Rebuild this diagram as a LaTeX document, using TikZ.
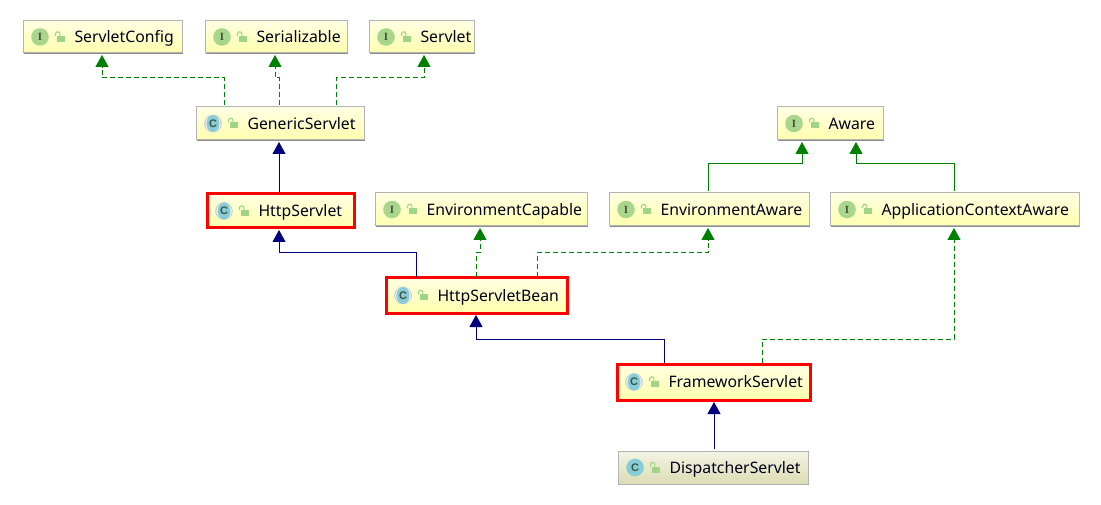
\documentclass[tikz,border=0pt]{standalone}
\usepackage{fontspec}
\setmainfont{Noto Sans}
\newfontfamily\iconserif{Liberation Serif}
\newfontfamily\iconsans{Liberation Sans}
\usetikzlibrary{arrows.meta,calc}
\definecolor{ytop}{HTML}{FFFFE2}
\definecolor{ybot}{HTML}{FFFFAE}
\definecolor{gtop}{HTML}{F4F4E4}
\definecolor{gbot}{HTML}{DCDCB4}
\definecolor{edgegray}{HTML}{B4B4B4}
\definecolor{shadowgray}{HTML}{8C8C8C}
\definecolor{igreen}{HTML}{A9D68C}
\definecolor{cblue}{HTML}{84CDD9}
\definecolor{ringgray}{HTML}{C8C8C8}
\definecolor{lockgreen}{HTML}{A0D585}
\definecolor{icontext}{HTML}{44503C}
\definecolor{implgreen}{HTML}{008000}
\definecolor{extblue}{HTML}{000080}
\tikzset{
  umlbase/.style={anchor=north west,inner sep=0pt,outer sep=0pt,rectangle},
  plainbox/.style={umlbase,draw=edgegray,line width=1pt,top color=ytop,bottom color=ybot},
  redbox/.style={umlbase,draw=red,line width=3pt,top color=ytop,bottom color=ybot},
  leafbox/.style={umlbase,draw=edgegray,line width=1pt,top color=gtop,bottom color=gbot},
  boxlabel/.style={anchor=base west,inner sep=0pt,font=\fontsize{15.8}{18}\selectfont,text=black!90!blue},
  iconi/.style={circle,fill=igreen,inner sep=0pt,minimum size=17.6pt,text=icontext,font=\iconserif\bfseries\fontsize{11}{11}\selectfont},
  iconc/.style={circle,inner sep=0pt,minimum size=17.6pt,text=icontext,font=\iconsans\bfseries\fontsize{11}{11}\selectfont},
  impl/.style={draw=implgreen,line width=1pt,dash pattern=on 5pt off 3pt,-{Triangle[length=12pt,width=13pt]}},
  implsolid/.style={draw=implgreen,line width=1pt,-{Triangle[length=12pt,width=13pt]}},
  ext/.style={draw=extblue,line width=1pt,-{Triangle[length=12pt,width=13pt]}},
}
% name, x1, y1, x2, y2, text, box style, icon letter, kind (c ringed, d plain, i interface)
\newcommand{\umlnode}[9]{%
  \fill[shadowgray] (#2+1,#3+1) rectangle (#4+1,#5+1.2);
  \pgfmathsetmacro{\bw}{#4-#2}\pgfmathsetmacro{\bh}{#5-#3}
  \node[#7,minimum width=\bw pt,minimum height=\bh pt] (#1) at (#2,#3) {};
  \pgfmathsetmacro{\cy}{(#3+#5)/2}
  \pgfmathsetmacro{\ix}{#2+17}
  \pgfmathsetmacro{\lx}{#2+37}
  \ifx c#9
    \fill[ringgray] (\ix,\cy) circle (8.8);
    \fill[white] (\ix,\cy) ellipse (7.6 and 8.2);
    \fill[cblue] (\ix,\cy) ellipse (6.6 and 8.5);
    \node[#8] (#1-icon) at (\ix,\cy) {C};
  \else\ifx d#9
    \fill[cblue] (\ix,\cy) circle (8.8);
    \node[#8] (#1-icon) at (\ix,\cy) {C};
  \else
    \node[#8] (#1-icon) at (\ix,\cy) {I};
  \fi\fi
  \fill[lockgreen] (\lx-3,\cy-1) rectangle (\lx+5,\cy+5);
  \draw[lockgreen,line width=1.1pt] (\lx-4.5,\cy-1) -- (\lx-4.5,\cy-3) arc (180:360:2.2 and 2.2) -- (\lx-0.1,\cy-1);
  \node[boxlabel] (#1-text) at (#2+51.3,\cy+5.8) {#6};
}
\begin{document}
\begin{tikzpicture}[x=1pt,y=-1pt]
\useasboundingbox (0,0) rectangle (1101,505);
\fill[white] (0,0) rectangle (1101,505);
\umlnode{sc}{23}{21}{182}{53}{ServletConfig}{plainbox}{iconi}{i}
\umlnode{se}{205}{21}{347}{53}{Serializable}{plainbox}{iconi}{i}
\umlnode{sv}{369}{21}{474}{53}{Servlet}{plainbox}{iconi}{i}
\umlnode{gs}{196}{107}{364}{140}{GenericServlet}{plainbox}{iconc}{c}
\umlnode{aw}{777}{107}{883}{140}{Aware}{plainbox}{iconi}{i}
\umlnode{hs}{207}{194}{354}{228}{HttpServlet}{redbox}{iconc}{c}
\umlnode{ec}{375}{193}{587}{226}{EnvironmentCapable}{plainbox}{iconi}{i}
\umlnode{ea}{609}{193}{809}{226}{EnvironmentAware}{plainbox}{iconi}{i}
\umlnode{ac}{830}{193}{1079}{226}{ApplicationContextAware}{plainbox}{iconi}{i}
\umlnode{hb}{386}{278}{567}{313}{HttpServletBean}{redbox}{iconc}{c}
\umlnode{fs}{617}{364}{810}{400}{FrameworkServlet}{redbox}{iconc}{c}
\umlnode{ds}{618}{451}{808}{484}{DispatcherServlet}{leafbox}{iconc}{d}
% connectors
\draw[impl] ([xshift=28pt,yshift=2pt]gs.north west) -- ++(0,-27) -| ([xshift=79pt,yshift=-2pt]sc.south west);
\draw[impl] ([xshift=83pt,yshift=2pt]gs.north west) -- ++(0,-27) -| ([xshift=70pt,yshift=-2pt]se.south west);
\draw[impl] ([xshift=140pt,yshift=2pt]gs.north west) -- ++(0,-27) -| ([xshift=55pt,yshift=-2pt]sv.south west);
\draw[ext] ([xshift=72pt,yshift=2pt]hs.north west) -- ([xshift=83pt,yshift=-2pt]gs.south west);
\draw[ext] ([xshift=30pt,yshift=1pt]hb.north west) -- ++(0,-24) -| ([xshift=72pt,yshift=-2pt]hs.south west);
\draw[impl] ([xshift=90pt,yshift=1pt]hb.north west) -- ++(0,-24) -| ([xshift=105pt,yshift=-2pt]ec.south west);
\draw[impl] ([xshift=151pt,yshift=1pt]hb.north west) -- ++(0,-24) -| ([xshift=99pt,yshift=-2pt]ea.south west);
\draw[implsolid] ([xshift=99pt,yshift=2pt]ea.north west) -- ++(0,-27) -| ([xshift=25pt,yshift=-2pt]aw.south west);
\draw[implsolid] ([xshift=124pt,yshift=2pt]ac.north west) -- ++(0,-27) -| ([xshift=79pt,yshift=-2pt]aw.south west);
\draw[ext] ([xshift=47pt,yshift=1pt]fs.north west) -- ++(0,-24) -| ([xshift=90pt,yshift=-2pt]hb.south west);
\draw[impl] ([xshift=145pt,yshift=1pt]fs.north west) -- ++(0,-24) -| ([xshift=124pt,yshift=-2pt]ac.south west);
\draw[ext] ([xshift=96pt,yshift=2pt]ds.north west) -- ([xshift=97pt,yshift=-2pt]fs.south west);
\end{tikzpicture}
\end{document}
